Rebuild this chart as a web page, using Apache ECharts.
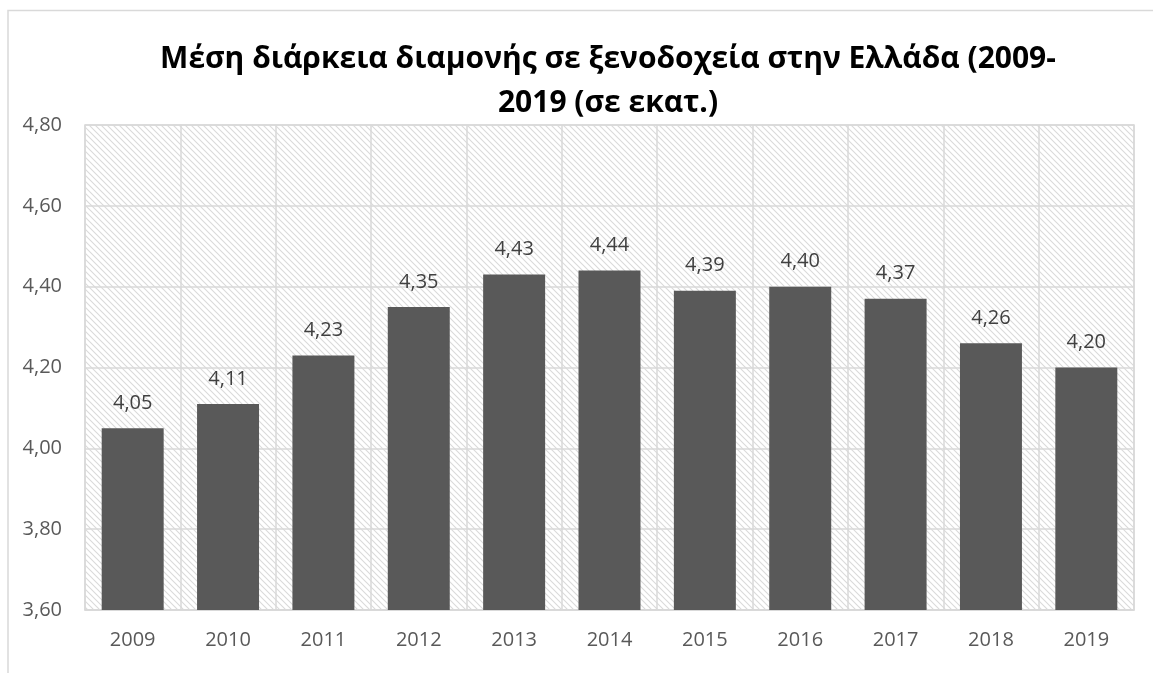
<!DOCTYPE html>
<html>
<head>
<meta charset="utf-8">
<script src="https://cdn.jsdelivr.net/npm/echarts@6/dist/echarts.min.js"></script>
<style>
  html, body { margin: 0; padding: 0; background: #fff; }
  #chart { width: 1153px; height: 673px; }
</style>
</head>
<body>
<div id="chart"></div>
<script>
// Average length of stay in Greek hotels, 2009-2019
const years = ['2009', '2010', '2011', '2012', '2013', '2014', '2015', '2016', '2017', '2018', '2019'];
const stayValues = [4.05, 4.11, 4.23, 4.35, 4.43, 4.44, 4.39, 4.40, 4.37, 4.26, 4.20];
const yTicks = [3.6, 3.8, 4.0, 4.2, 4.4, 4.6, 4.8];

// Diagonal hatch tile for the plot background
function makeHatch() {
  const c = document.createElement('canvas');
  const s = 6;
  c.width = s; c.height = s;
  const g = c.getContext('2d');
  g.fillStyle = '#ffffff';
  g.fillRect(0, 0, s, s);
  g.strokeStyle = '#dadada';
  g.lineWidth = 1.1;
  g.beginPath();
  g.moveTo(-1, -1); g.lineTo(s + 1, s + 1);
  g.moveTo(-1, s - 1); g.lineTo(1, s + 1);
  g.moveTo(s - 1, -1); g.lineTo(s + 1, 1);
  g.stroke();
  return c;
}

const fmt = v => v.toFixed(2).replace('.', ',');

const chart = echarts.init(document.getElementById('chart'), null, { renderer: 'canvas' });
chart.setOption({
  animation: false,
  backgroundColor: '#ffffff',
  title: {
    text: 'Μέση διάρκεια διαμονής σε ξενοδοχεία στην Ελλάδα (2009-\n2019 (σε εκατ.)',
    left: 603,
    textAlign: 'center',
    top: 32,
    textStyle: {
      fontFamily: 'Open Sans',
      fontWeight: 'bold',
      fontSize: 30,
      lineHeight: 44,
      color: '#000000'
    }
  },
  graphic: [{
    type: 'rect',
    shape: { x: 8, y: 10.5, width: 1200, height: 700 },
    style: { fill: 'none', stroke: '#d9d9d9', lineWidth: 1.5 },
    silent: true,
    z: -1
  }],
  grid: {
    left: 85,
    right: 19,
    top: 125,
    bottom: 63,
    show: true,
    backgroundColor: { image: makeHatch(), repeat: 'repeat' },
    borderColor: '#d9d9d9',
    borderWidth: 1.5
  },
  xAxis: {
    type: 'category',
    data: years,
    axisLine: { show: true, lineStyle: { color: '#d9d9d9', width: 1.5 } },
    axisTick: { show: false },
    splitLine: { show: true, interval: 0, lineStyle: { color: '#d9d9d9', width: 1.5 } },
    axisLabel: {
      color: '#595959',
      fontFamily: 'Open Sans',
      fontSize: 20,
      margin: 20
    }
  },
  yAxis: {
    type: 'value',
    min: yTicks[0],
    max: yTicks[yTicks.length - 1],
    interval: 0.2,
    axisLine: { show: false },
    axisTick: { show: false },
    splitLine: { show: true, lineStyle: { color: '#d9d9d9', width: 1.5 } },
    axisLabel: {
      color: '#595959',
      fontFamily: 'Open Sans',
      fontSize: 20,
      margin: 23,
      formatter: v => fmt(v)
    }
  },
  series: [{
    type: 'bar',
    data: stayValues,
    barCategoryGap: '35%',
    itemStyle: { color: '#595959' },
    label: {
      show: true,
      position: 'top',
      distance: 15,
      color: '#404040',
      fontFamily: 'Open Sans',
      fontSize: 20,
      formatter: p => fmt(p.value)
    }
  }]
});
</script>
</body>
</html>
